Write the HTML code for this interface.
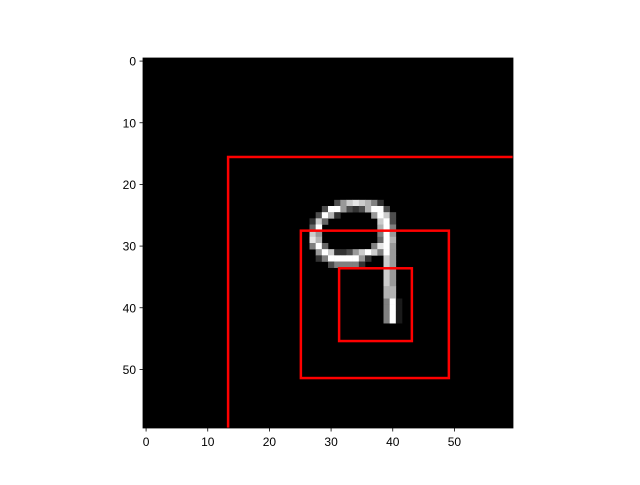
<!DOCTYPE html>
<html><head><meta charset="utf-8"><style>
body{margin:0;background:#fff}
text{font-family:"Liberation Sans","DejaVu Sans",sans-serif;font-size:12px;fill:#000}
</style></head><body>
<svg id="chart" width="640" height="480" xmlns="http://www.w3.org/2000/svg">
<g id="img"></g>
<g id="rects"></g>
<g id="axes"></g>
</svg>
<script>
const N = 60;
const xTicks = [0,10,20,30,40,50];
const yTicks = [0,10,20,30,40,50];
// digit pixels: [row, col, intensity]
const pixels = [
[23,31,0.3],[23,32,0.6],[23,33,0.8],[23,34,0.9],[23,35,0.8],[23,36,0.7],[23,37,0.5],[23,38,0.2],
[24,29,0.3],[24,30,1],[24,31,1],[24,32,0.6],[24,33,0.3],[24,34,0.2],[24,35,0.3],[24,36,0.7],[24,37,1],[24,38,1],[24,39,0.3],
[25,28,0.3],[25,29,1],[25,30,0.7],[25,31,0.2],[25,37,0.6],[25,38,1],[25,39,0.8],[25,40,0.3],
[26,27,0.2],[26,28,0.8],[26,29,0.4],[26,38,0.8],[26,39,1],[26,40,0.3],
[27,27,0.4],[27,28,1],[27,38,0.7],[27,39,1],[27,40,0.5],
[28,27,0.8],[28,28,0.6],[28,38,0.5],[28,39,1],[28,40,0.6],
[29,27,0.9],[29,28,0.7],[29,38,0.4],[29,39,1],[29,40,0.7],
[30,27,0.5],[30,28,1],[30,29,0.4],[30,37,0.5],[30,38,0.9],[30,39,1],[30,40,0.6],
[31,28,0.6],[31,29,1],[31,30,0.8],[31,31,0.2],[31,32,0.2],[31,33,0.3],[31,34,0.6],[31,35,0.8],[31,36,1],[31,37,0.8],[31,38,0.5],[31,39,1],[31,40,0.6],
[32,28,0.2],[32,29,0.5],[32,30,1],[32,31,1],[32,32,1],[32,33,1],[32,34,1],[32,35,0.6],[32,36,0.2],[32,39,0.8],[32,40,0.6],
[33,30,0.3],[33,31,0.5],[33,32,0.5],[33,33,0.5],[33,34,0.5],[33,35,0.2],[33,39,0.8],[33,40,0.6],
[34,39,0.8],[34,40,0.6],[35,39,0.8],[35,40,0.6],[36,39,0.8],[36,40,0.6],
[37,39,0.7],[37,40,0.7],[38,39,0.7],[38,40,0.7],
[39,39,0.5],[39,40,1],[39,41,0.1],[40,39,0.5],[40,40,1],[40,41,0.1],[41,39,0.5],[41,40,1],[41,41,0.1],[42,39,0.5],[42,40,1],[42,41,0.1]
];
// boxes: [x0, y0, x1, y1] in data coords
const boxes = [[13.3,15.55,62,62],[25.1,27.5,49.1,51.4],[31.3,33.6,43.1,45.4]];

const L=143, T=58, W=370, H=370;
const sx = v => L + (v+0.5)*W/N;
const sy = v => T + (v+0.5)*H/N;
const ns="http://www.w3.org/2000/svg";
function mk(tag, attrs, parent){const e=document.createElementNS(ns,tag);for(const k in attrs)e.setAttribute(k,attrs[k]);parent.appendChild(e);return e;}
const gi=document.getElementById('img');
const bg=mk('rect',{x:L,y:T,width:W,height:H,fill:'#000'},gi);


const cw=W/N;
pixels.forEach(p=>{
  const g=Math.round(p[2]*255);
  const r=mk('rect',{x:sx(p[1]-0.5),y:sy(p[0]-0.5),width:cw+0.3,height:cw+0.3,fill:`rgb(${g},${g},${g})`},gi);
  
  
});
const gr=document.getElementById('rects');
const cp=mk('clipPath',{id:'cp'},gr);mk('rect',{x:L,y:T,width:W,height:H},cp);
boxes.forEach(b=>{
  const r=mk('rect',{x:sx(b[0]),y:sy(b[1]),width:(b[2]-b[0])*cw,height:(b[3]-b[1])*cw,fill:'none',stroke:'#ff0000','stroke-width':2.5,'clip-path':'url(#cp)'},gr);
  
  
});
const ga=document.getElementById('axes');
const fr=mk('rect',{x:L,y:T,width:W,height:H,fill:'none',stroke:'#000','stroke-width':0.8},ga);


xTicks.forEach(t=>{
  mk('line',{x1:sx(t),x2:sx(t),y1:T+H,y2:T+H+3.5,stroke:'#000','stroke-width':0.8},ga);
  const tx=mk('text',{x:sx(t),y:T+H+18,'text-anchor':'middle'},ga);tx.textContent=t;
  
  
});
yTicks.forEach(t=>{
  mk('line',{x1:L,x2:L-3.5,y1:sy(t),y2:sy(t),stroke:'#000','stroke-width':0.8},ga);
  const tx=mk('text',{x:L-7,y:sy(t)+4.5,'text-anchor':'end'},ga);tx.textContent=t;
  
  
});
</script>
</body></html>
